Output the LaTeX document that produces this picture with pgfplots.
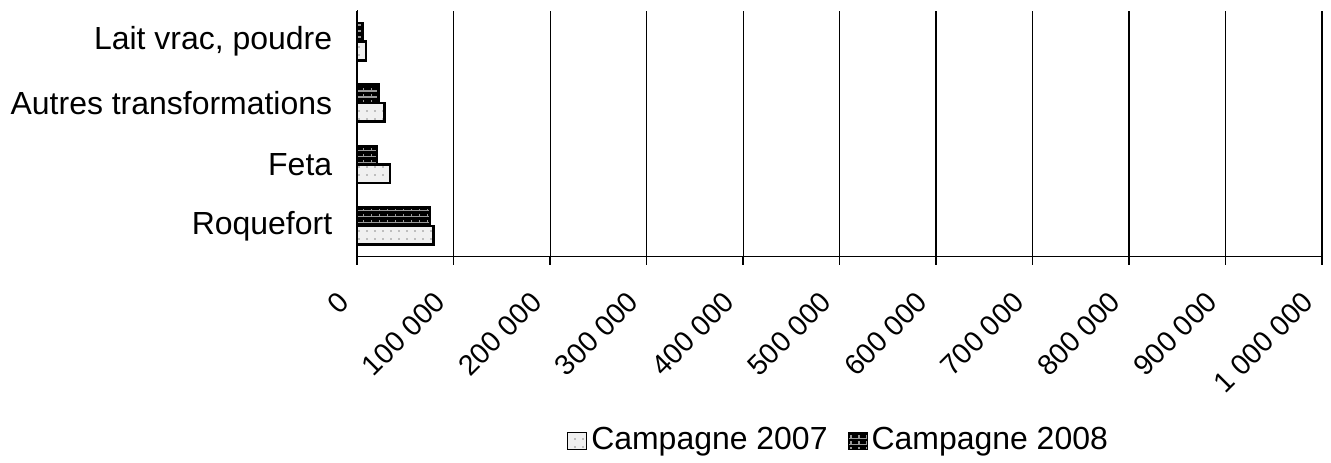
\documentclass[border=0pt]{standalone}
\usepackage{fontspec}
\setmainfont{Liberation Sans}
\usepackage{pgfplots}
\pgfplotsset{compat=1.18}
\usetikzlibrary{patterns,patterns.meta}

% small brick-like pattern for the 2008 bars
\pgfdeclarepatternformonly{smallbricks}{\pgfqpoint{-1pt}{-1pt}}{\pgfqpoint{5pt}{4pt}}{\pgfqpoint{4pt}{3pt}}{
  \pgfsetlinewidth{0.6pt}
  \pgfpathmoveto{\pgfqpoint{0pt}{0pt}}\pgfpathlineto{\pgfqpoint{4pt}{0pt}}
  \pgfpathmoveto{\pgfqpoint{2pt}{0pt}}\pgfpathlineto{\pgfqpoint{2pt}{1.6pt}}
  \pgfusepath{stroke}}

\pgfplotstableread{
cat  c2007  c2008
0    79000  75500
1    34000  20500
2    28500  22000
3     9000   5500
}\campagnes

\begin{document}
\fontsize{16}{19}\selectfont
\begin{tikzpicture}
\begin{axis}[
    scale only axis,
    width=483pt, height=123pt,
    xbar,
    bar width=9.3pt,
    xmin=0, xmax=1000000,
    ymin=-0.5, ymax=3.5,
    axis lines*=left,
    axis line style={black, line width=0.8pt},
    scaled x ticks=false,
    xtick={0,100000,200000,300000,400000,500000,600000,700000,800000,900000,1000000},
    xticklabels={0,100 000,200 000,300 000,400 000,500 000,600 000,700 000,800 000,900 000,1 000 000},
    xticklabel style={font=\fontsize{14.3}{17}\selectfont, xshift=-3pt, yshift=-12.5pt, rotate=45, anchor=east},
    xmajorgrids,
    grid style={black, line width=0.6pt},
    tick align=outside,
    major tick length=4pt,
    x tick style={black, line width=0.8pt},
    ytick={0,1,2,3},
    yticklabels={Roquefort, Feta, Autres transformations, {Lait vrac, poudre}},
    y tick style={draw=none},
    yticklabel style={xshift=-3pt},
    legend style={at={(0.5,-0.75)}, anchor=center, draw=none,
        legend columns=2, font=\fontsize{16}{19}\selectfont,
        /tikz/every even column/.append style={column sep=8pt}},
    legend image code/.code={\draw[#1, line width=0.5pt] (0pt,-4.3pt) rectangle (9.5pt,4.3pt);},
]
\addplot[draw=black, line width=1.3pt, fill=black!6, bar shift=-4.65pt,
    postaction={pattern={Dots[distance=4pt, radius=0.45pt]}, pattern color=black!45}]
    table[x=c2007, y=cat] {\campagnes};
\addlegendentry{Campagne 2007}
\addplot[draw=black, line width=1.3pt, fill=black, bar shift=4.65pt,
    postaction={pattern=smallbricks, pattern color=black!40}]
    table[x=c2008, y=cat] {\campagnes};
\addlegendentry{Campagne 2008}
\pgfplotsinvokeforeach{-0.5,0.5,1.5,2.5,3.5}{
    \draw[black, line width=0.8pt] (axis cs:0,#1) -- ++(-6pt,0);
}
\end{axis}
\path (current axis.north east) ++(4.5pt,5.5pt);
\end{tikzpicture}
\end{document}
